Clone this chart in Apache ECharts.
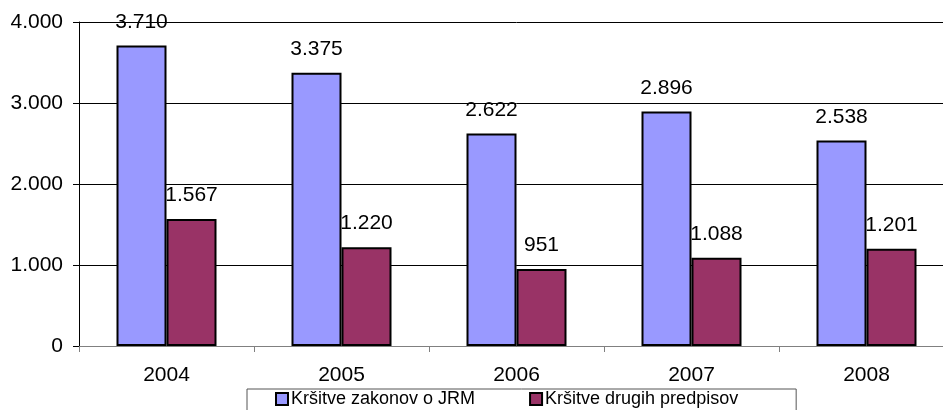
<!DOCTYPE html>
<html>
<head>
<meta charset="utf-8">
<script src="https://cdn.jsdelivr.net/npm/echarts@6/dist/echarts.min.js"></script>
<style>
html,body{margin:0;padding:0;background:#fff;overflow:hidden;width:943px;height:410px;}
#c{width:954px;height:410px;}
</style>
</head>
<body>
<div id="c"></div>
<script>
var categories = ['2004', '2005', '2006', '2007', '2008'];
var seriesNames = ['Kršitve zakonov o JRM', 'Kršitve drugih predpisov'];
var jrmValues = [3710, 3375, 2622, 2896, 2538];
var otherValues = [1567, 1220, 951, 1088, 1201];
var yTicks = [0, 1000, 2000, 3000, 4000];

function fmt(v) {
  return String(v).replace(/\B(?=(\d{3})+(?!\d))/g, '.');
}

var font = 'Liberation Sans, Arial, sans-serif';
var chart = echarts.init(document.getElementById('c'), null, {renderer: 'canvas'});
var labelCfg = {
  show: true, position: 'top', distance: 13,
  color: '#000', fontSize: 21, fontFamily: font,
  formatter: function (p) { return fmt(p.value); }
};
chart.setOption({
  animation: false,
  backgroundColor: '#fff',
  grid: {left: 79, top: 22, right: 0, bottom: 64, containLabel: false},
  legend: {
    left: 247, top: 389,
    padding: [1, 58, 12, 28],
    itemGap: 54,
    itemWidth: 12, itemHeight: 12,
    icon: 'rect',
    borderColor: '#555', borderWidth: 1,
    textStyle: {fontSize: 18, fontFamily: font, color: '#000', padding: [0, 0, 0, -2]},
    data: seriesNames
  },
  xAxis: {
    type: 'category',
    data: categories,
    axisLine: {lineStyle: {color: '#808080', width: 1}},
    axisTick: {show: true, length: 6, lineStyle: {color: '#808080'}},
    axisLabel: {fontSize: 21, fontFamily: font, color: '#000', margin: 19}
  },
  yAxis: {
    type: 'value',
    min: 0, max: 4000, interval: 1000,
    axisLine: {show: true, lineStyle: {color: '#000', width: 1}},
    axisTick: {show: true, length: 6, lineStyle: {color: '#000'}},
    axisLabel: {fontSize: 21, fontFamily: font, color: '#000', margin: 16,
      formatter: function (v) { return fmt(v); }},
    splitLine: {lineStyle: {color: '#000', width: 1}}
  },
  series: [
    {
      name: seriesNames[0], type: 'bar', data: jrmValues,
      barWidth: 50, barGap: '0%',
      itemStyle: {color: '#9999FF', borderColor: '#000', borderWidth: 2},
      label: labelCfg
    },
    {
      name: seriesNames[1], type: 'bar', data: otherValues,
      barWidth: 50, barGap: '0%',
      itemStyle: {color: '#993366', borderColor: '#000', borderWidth: 2},
      label: labelCfg
    }
  ]
});
</script>
</body>
</html>
